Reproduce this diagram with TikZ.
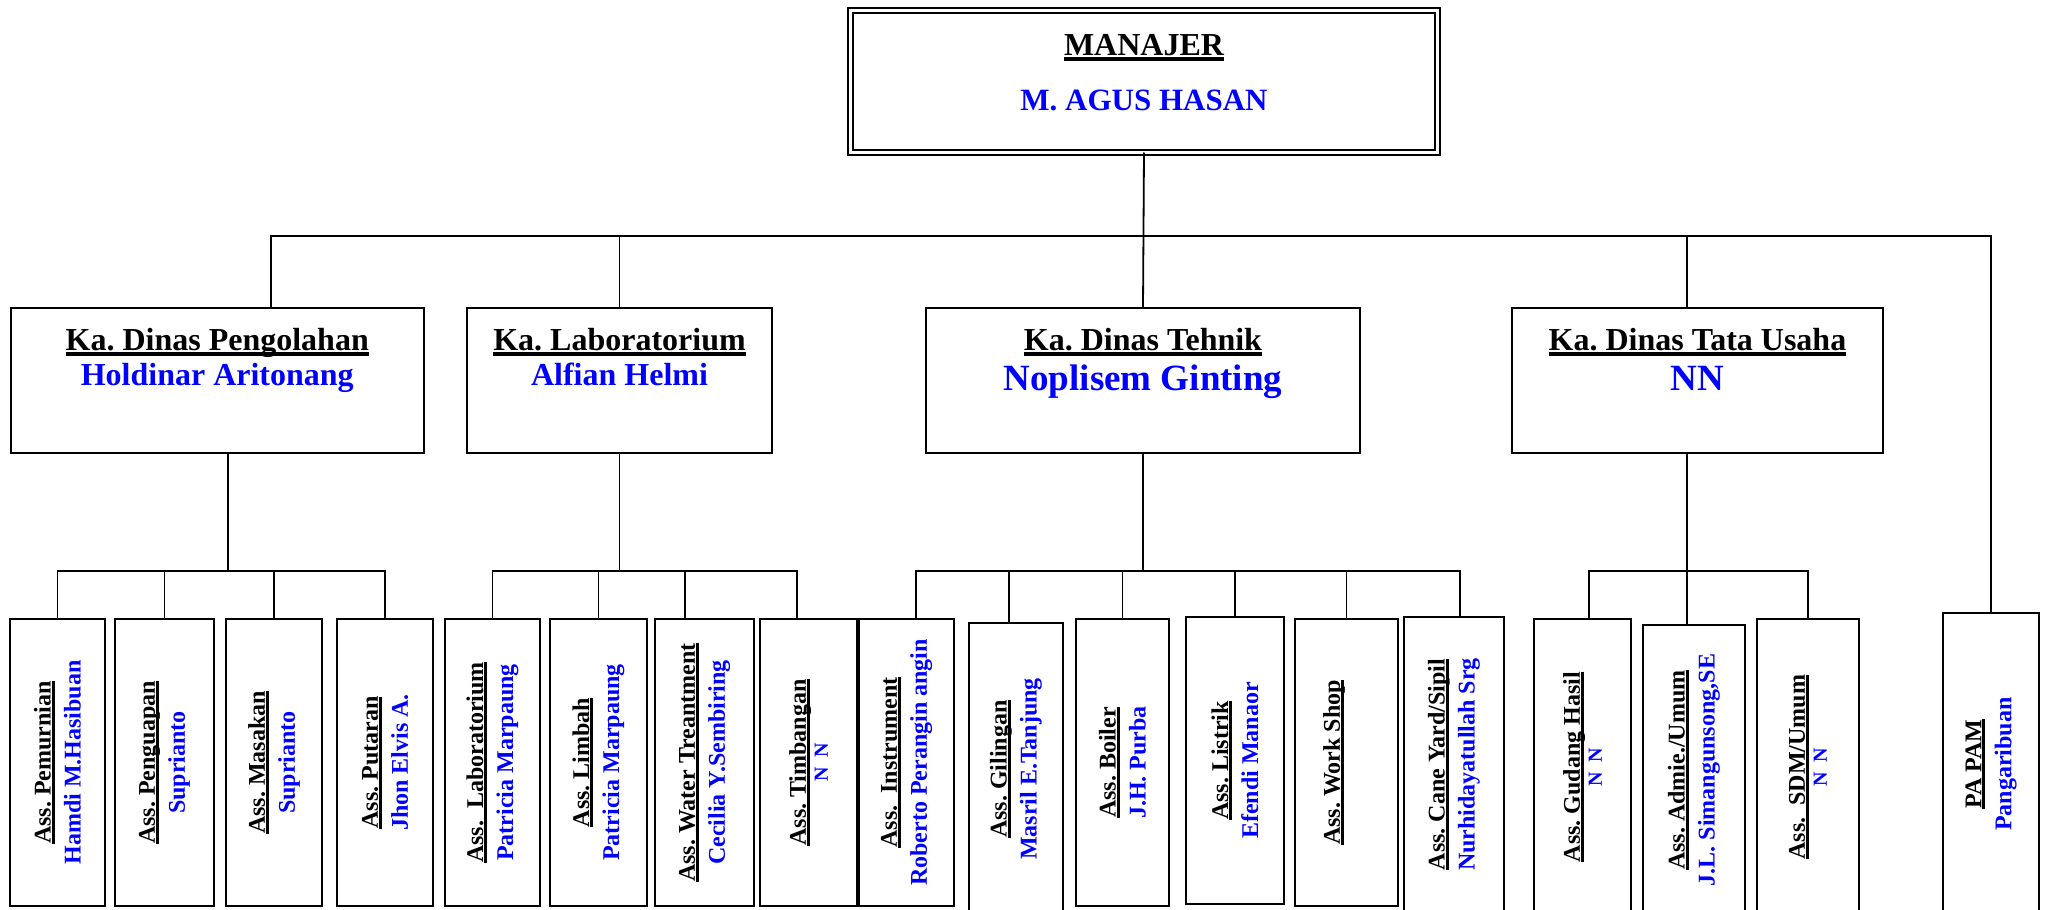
\documentclass[tikz,border=0pt]{standalone}
\usepackage{fontspec}
\setmainfont{Liberation Serif}
\usetikzlibrary{positioning, calc}
\frenchspacing

\newsavebox{\ulbox}
\newcommand{\ultxt}[1]{\sbox{\ulbox}{#1}\dp\ulbox=0pt\vtop{\copy\ulbox\kern.05em\hrule height.12em}}
\newcommand{\nm}[1]{\textcolor{blue}{#1}}
\newcommand{\nn}{{\color{blue}\fontsize{10}{15}\selectfont N~~N}}

\tikzset{
  manbox/.style={draw, double, double distance=1.5pt, line width=1.1pt, inner sep=0pt, outer sep=0pt},
  kabox/.style={draw, line width=1pt, inner sep=0pt, outer sep=0pt, minimum height=72.5pt},
  katext/.style={anchor=north, align=center, inner sep=0pt, font=\fontsize{16}{17.5}\selectfont\bfseries},
  asbox/.style={draw, line width=0.9pt, rotate=90, inner sep=0pt, outer sep=0pt, align=center,
                minimum width=143.5pt, font=\fontsize{12}{15}\selectfont\bfseries},
  topline/.style={line width=0.9pt},
  orgline/.style={line width=0.8pt}
}

\begin{document}
\begin{tikzpicture}[x=0.5pt, y=-0.5pt]
    \useasboundingbox (0,0) rectangle (2053,910);
    \clip (0,0) rectangle (2053,910);

    % manajer
    \node[manbox, minimum width=293.5pt, minimum height=71pt] (man) at (1144,81.5) {};
    \node[katext, font=\fontsize{16}{27.5}\selectfont\bfseries, yshift=-11.65pt] (man-t) at (man.north)
        {\ultxt{MANAJER}\\{\fontsize{15.5}{27.5}\selectfont\nm{M. AGUS HASAN}}};

    % kepala dinas
    \node[kabox, minimum width=206.75pt] (peng) at (217.25,380.5) {};
    \node[katext, yshift=-10pt] (peng-t) at (peng.north) {\ultxt{Ka. Dinas Pengolahan}\\\nm{Holdinar Aritonang}};
    \node[kabox, minimum width=152.5pt] (lab) at (619.5,380.5) {};
    \node[katext, yshift=-10pt] (lab-t) at (lab.north) {\ultxt{Ka. Laboratorium}\\\nm{Alfian Helmi}};
    \node[kabox, minimum width=217pt] (tehnik) at (1143,380.5) {};
    \node[katext, yshift=-10pt] (tehnik-t) at (tehnik.north)
        {\ultxt{Ka. Dinas Tehnik}\\[2.5pt]{\color{blue}\fontsize{18.5}{20}\selectfont Noplisem Ginting}};
    \node[kabox, minimum width=185.5pt] (tata) at (1697.5,380.5) {};
    \node[katext, yshift=-10pt] (tata-t) at (tata.north)
        {\ultxt{Ka. Dinas Tata Usaha}\\[2.5pt]{\color{blue}\fontsize{18.5}{20}\selectfont NN}};

    % asisten pengolahan
    \node[asbox, minimum height=47.5pt] (pemurnian) at (57.5,762.5) {\ultxt{Ass. Pemurnian}\\\nm{Hamdi M.Hasibuan}};
    \node[asbox, minimum height=49.5pt] (penguapan) at (164.5,762.5) {\ultxt{Ass. Penguapan}\\\nm{Suprianto}};
    \node[asbox, minimum height=48pt] (masakan) at (274,762.5) {\ultxt{Ass. Masakan}\\\nm{Suprianto}};
    \node[asbox, minimum height=48pt] (putaran) at (385,762.5) {\ultxt{Ass. Putaran}\\\nm{Jhon Elvis A.}};

    % asisten laboratorium
    \node[asbox, minimum height=47.5pt] (aslab) at (492.5,762.5) {\ultxt{Ass.\ \ Laboratorium}\\\nm{Patricia Marpaung}};
    \node[asbox, minimum height=48.5pt] (limbah) at (598.5,762.5) {\ultxt{Ass. Limbah}\\\nm{Patricia Marpaung}};
    \node[asbox, minimum height=49.5pt] (water) at (704.5,762.5) {\ultxt{Ass. Water Treantment}\\\nm{Cecilia Y.Sembiring}};
    \node[asbox, minimum height=48.5pt] (timbangan) at (808.5,762.5) {\ultxt{Ass. Timbangan}\\[-4pt]\nn};

    % asisten tehnik
    \node[asbox, minimum height=47.5pt] (instrument) at (906.5,762.5) {\ultxt{Ass.\ \ Instrument}\\\nm{Roberto Perangin angin}};
    \node[asbox, minimum height=47pt, minimum width=146pt] (gilingan) at (1016,769) {\ultxt{Ass. Gilingan}\\\nm{Masril E.Tanjung}};
    \node[asbox, minimum height=46.5pt] (boiler) at (1122.5,762.5) {\ultxt{Ass. Boiler}\\\nm{J.H. Purba}};
    \node[asbox, minimum height=49pt] (listrik) at (1235,760.5) {\ultxt{Ass. Listrik}\\\nm{Efendi Manaor}};
    \node[asbox, minimum height=51.5pt] (workshop) at (1346.5,762.5) {\ultxt{Ass. Work Shop}\\\mbox{}};
    \node[asbox, minimum height=50pt, minimum width=147.5pt] (caneyard) at (1454,764.5) {\ultxt{Ass. Cane Yard/Sipil}\\\nm{Nurhidayatullah Srg}};

    % asisten tata usaha
    \node[asbox, minimum height=48.5pt, minimum width=148pt] (gudang) at (1582.5,767) {\ultxt{Ass. Gudang Hasil}\\[-4pt]\nn};
    \node[asbox, minimum height=51pt, minimum width=145pt] (admie) at (1694,770) {\ultxt{Ass. Admie./Umum}\\\nm{J.L. Simangunsong,SE}};
    \node[asbox, minimum height=51pt, minimum width=148pt] (sdm) at (1808,767) {\ultxt{Ass.\ \ SDM/Umum}\\[-4pt]\nn};

    % pa pam
    \node[asbox, minimum height=48pt, minimum width=151pt] (papam) at (1991,764) {\ultxt{PA PAM}\\\nm{Pangaribuan}};

    % garis manajer
    \coordinate (bus) at (0,236);
    \coordinate (peng-up) at ([xshift=27pt]peng.north);
    \coordinate (tata-up) at ([xshift=-5.25pt]tata.north);
    \draw[topline] (man.south) -- (tehnik.north);
    \draw[topline] (peng-up) |- (papam.east |- bus) -- (papam.east);
    \draw[topline] (lab.north) -- (lab.north |- bus);
    \draw[topline] (tata-up) -- (tata-up |- bus);

    % garis asisten
    \coordinate (bus2) at (0,571);
    \coordinate (peng-dn) at ([xshift=5.5pt]peng.south);
    \draw[orgline] (peng-dn) -- (peng-dn |- bus2);
    \draw[orgline] (pemurnian.east) |- (putaran.east |- bus2) -- (putaran.east);
    \draw[orgline] (penguapan.east) -- (penguapan.east |- bus2);
    \draw[orgline] (masakan.east) -- (masakan.east |- bus2);

    \coordinate (water-up) at ([xshift=-9.75pt]water.east);
    \coordinate (timb-up) at ([xshift=-5.75pt]timbangan.east);
    \draw[orgline] (lab.south) -- (lab.south |- bus2);
    \draw[orgline] (aslab.east) |- (timb-up |- bus2) -- (timb-up);
    \draw[orgline] (limbah.east) -- (limbah.east |- bus2);
    \draw[orgline] (water-up) -- (water-up |- bus2);

    \coordinate (instr-up) at ([xshift=4.75pt]instrument.east);
    \coordinate (giling-up) at ([xshift=-3.5pt]gilingan.east);
    \coordinate (cane-up) at ([xshift=3pt]caneyard.east);
    \draw[orgline] (tehnik.south) -- (tehnik.south |- bus2);
    \draw[orgline] (instr-up) |- (cane-up |- bus2) -- (cane-up);
    \draw[orgline] (giling-up) -- (giling-up |- bus2);
    \draw[orgline] (boiler.east) -- (boiler.east |- bus2);
    \draw[orgline] (listrik.east) -- (listrik.east |- bus2);
    \draw[orgline] (workshop.east) -- (workshop.east |- bus2);

    \coordinate (tata-dn) at ([xshift=-5.25pt]tata.south);
    \coordinate (gudang-up) at ([xshift=3.25pt]gudang.east);
    \draw[orgline] (tata-dn) -- (tata-dn |- admie.east);
    \draw[orgline] (gudang-up) |- (sdm.east |- bus2) -- (sdm.east);
\end{tikzpicture}
\end{document}
